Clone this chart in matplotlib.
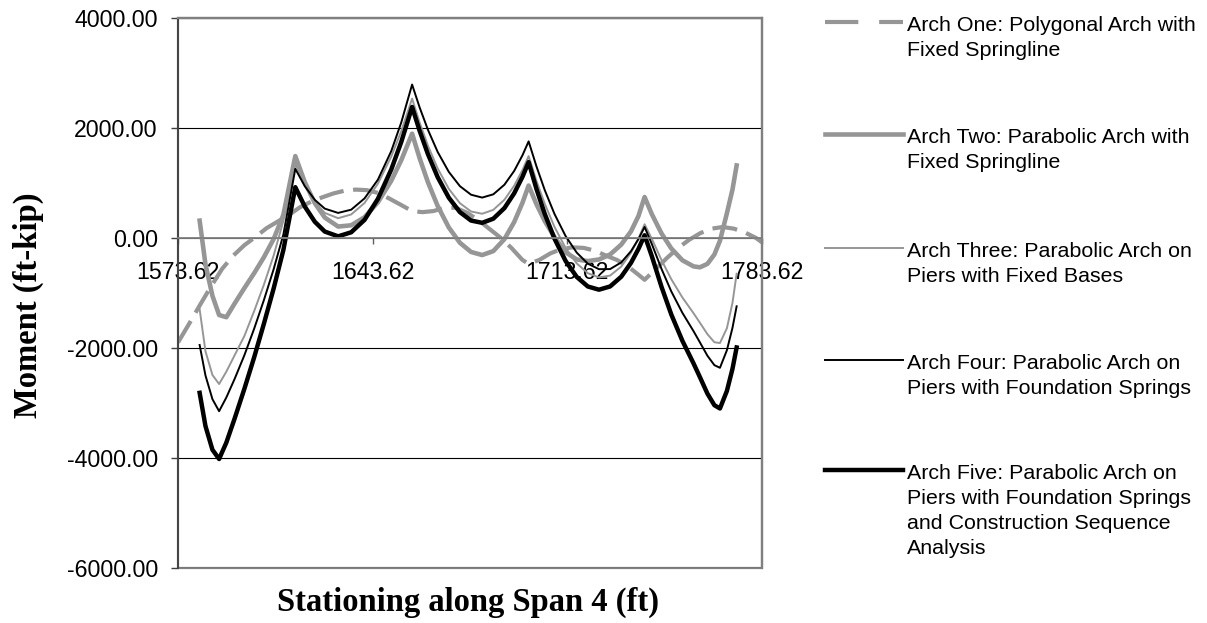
import matplotlib
matplotlib.use("Agg")
import matplotlib.pyplot as plt
from matplotlib.lines import Line2D

# ---- data (station in ft, moment in ft-kip) ----
# Arch one runs over the whole axis
station_one = [1573.62, 1577.5, 1581.5, 1585.5, 1589.5, 1593.5, 1597.5, 1601.5,
               1605.5, 1609.5, 1613.5, 1617.5, 1621.5, 1625.5, 1629.5, 1633.5,
               1637.5, 1641.5, 1645.5, 1649.5, 1653.5, 1657.8, 1661.5, 1665.5,
               1669.5, 1673.5, 1677.5, 1681.5, 1685.5, 1689.5, 1693.5, 1697.5,
               1699.7, 1703.5, 1707.5, 1711.5, 1715.5, 1719.5, 1723.5, 1727.5,
               1731.5, 1735.5, 1739.0, 1741.4, 1745.5, 1749.5, 1753.5, 1757.5,
               1761.5, 1765.5, 1769.5, 1773.5, 1777.5, 1781.5, 1783.62]
moment_one = [-1900, -1570, -1220, -880, -560, -320, -130, 20,
              180, 300, 420, 560, 660, 740, 810, 860,
              880, 870, 820, 720, 610, 490, 470, 490,
              550, 550, 460, 330, 170, 10, -180, -400,
              -470, -400, -280, -200, -170, -180, -230, -320,
              -400, -520, -660, -760, -560, -360, -180, -30,
              90, 170, 200, 170, 100, 0, -80]

# parabolic arches, springline to springline
station_parab = [1581.4, 1583.5, 1586.0, 1588.4, 1591.0, 1594.0, 1597.5, 1601.0, 1604.5, 1608.0, 1611.5,
                 1615.8,
                 1619.2, 1622.8, 1626.4, 1631.2, 1635.9, 1640.7, 1645.5, 1650.3, 1653.9,
                 1657.8,
                 1660.5, 1663.5, 1667.0, 1671.0, 1675.0, 1679.0, 1683.0, 1687.0, 1691.0, 1694.5, 1697.5,
                 1699.7,
                 1702.5, 1705.5, 1709.0, 1713.0, 1717.0, 1721.0, 1725.0, 1729.0, 1733.0, 1736.5, 1739.2,
                 1741.4,
                 1744.0, 1747.5, 1751.0, 1755.0, 1759.0, 1761.3, 1764.0, 1766.5, 1768.5, 1771.0, 1773.0, 1774.5]

moment_two = [316, -480, -1050, -1400, -1440, -1190, -910, -640, -350, -20, 420,
              1489,
              1017, 635, 372, 208, 231, 378, 648, 1040, 1414,
              1897,
              1452, 1013, 581, 191, -87, -254, -310, -238, -20, 289, 642,
              954,
              616, 308, 16, -260, -390, -420, -390, -300, -120, 120, 400,
              745,
              434, 82, -190, -405, -516, -533, -470, -300, -50, 450, 880, 1319]

moment_three = [-1295, -2060, -2490, -2655, -2430, -2130, -1780, -1330, -850, -320, 310,
                1350,
                962, 655, 456, 360, 428, 637, 988, 1480, 1942,
                2535,
                2100, 1678, 1264, 894, 633, 482, 441, 512, 696, 950, 1237,
                1489,
                1042, 621, 202, -181, -462, -640, -717, -683, -520, -269, -7,
                250,
                -14, -402, -749, -1082, -1367, -1541, -1749, -1895, -1910, -1640, -1180, -650]

moment_four = [-1945, -2500, -2930, -3149, -2900, -2560, -2130, -1650, -1130, -570, 60,
               1258,
               943, 694, 534, 456, 515, 720, 1060, 1580, 2100,
               2790,
               2375, 1967, 1564, 1202, 942, 787, 735, 794, 969, 1219, 1505,
               1757,
               1305, 871, 437, 35, -266, -467, -567, -565, -444, -240, -19,
               200,
               -109, -564, -971, -1361, -1694, -1898, -2141, -2312, -2360, -2040, -1635, -1242]

moment_five = [-2815, -3420, -3850, -4018, -3720, -3280, -2740, -2170, -1560, -920, -220,
               924,
               573, 296, 117, 30, 104, 330, 711, 1245, 1746,
               2383,
               1950, 1524, 1106, 733, 470, 317, 276, 351, 544, 812, 1114,
               1380,
               895, 438, -12, -418, -708, -882, -940, -881, -704, -453, -198,
               50,
               -330, -890, -1390, -1870, -2280, -2530, -2830, -3040, -3100, -2780, -2380, -1990]

x_ticks = [1573.62, 1643.62, 1713.62, 1783.62]
y_ticks = [-6000, -4000, -2000, 0, 2000, 4000]

legend_labels = [
    ["Arch One: Polygonal Arch with", "Fixed Springline"],
    ["Arch Two: Parabolic Arch with", "Fixed Springline"],
    ["Arch Three: Parabolic Arch on", "Piers with Fixed Bases"],
    ["Arch Four: Parabolic Arch on", "Piers with Foundation Springs"],
    ["Arch Five: Parabolic Arch on", "Piers with Foundation Springs",
     "and Construction Sequence", "Analysis"],
]

GRAY = "#969696"
SANS = "Liberation Sans"
SERIF = "Liberation Serif"

W, H = 1207, 623
fig = plt.figure(figsize=(W / 100, H / 100), dpi=100)
ax = fig.add_axes([178 / W, 1 - 568 / H, 584 / W, 550 / H])

# frame first (moving a spine resets the ticks): x axis crosses at zero
ax.spines["bottom"].set_position(("data", 0))
ax.spines["bottom"].set_color("#808080")
ax.spines["bottom"].set_linewidth(1.3)
ax.spines["left"].set_color("#404040")
ax.spines["left"].set_linewidth(1.3)
for s in ("top", "right"):
    ax.spines[s].set_color("#808080")
    ax.spines[s].set_linewidth(1.6)
ax.patch.set_edgecolor("#808080")
ax.patch.set_linewidth(1.6)

series = [
    (station_one, moment_one, dict(color=GRAY, lw=3.0, dashes=(6, 2.3))),
    (station_parab, moment_two, dict(color=GRAY, lw=3.3)),
    (station_parab, moment_three, dict(color=GRAY, lw=1.4)),
    (station_parab, moment_four, dict(color="black", lw=1.4)),
    (station_parab, moment_five, dict(color="black", lw=3.2)),
]
for xs, ys, st in series:
    ax.plot(xs, ys, solid_joinstyle="round", dash_joinstyle="round", **st)

ax.set_xlim(1573.62, 1783.62)
ax.set_ylim(-6000, 4000)
ax.set_xticks(x_ticks)
ax.set_xticklabels(["%.2f" % v for v in x_ticks])
ax.set_yticks(y_ticks)
ax.set_yticklabels(["%.2f" % v for v in y_ticks])
for lbl in ax.get_xticklabels() + ax.get_yticklabels():
    lbl.set_fontfamily(SANS)
    lbl.set_fontsize(16.7)

ax.set_axisbelow(True)
ax.yaxis.grid(True, color="black", lw=0.8)

ax.tick_params(axis="x", direction="out", length=4.3, width=1, color="#606060", pad=12)
ax.tick_params(axis="y", direction="out", length=5, width=1, color="#404040", pad=9.5)

ax.set_xlabel("Stationing along Span 4 (ft)", fontfamily=SERIF, fontweight="bold", fontsize=23.5)
ax.xaxis.set_label_coords((468 - 178) / 584, -0.035)
ax.set_ylabel("Moment (ft-kip)", fontfamily=SERIF, fontweight="bold", fontsize=23.5)
ax.yaxis.set_label_coords((44 - 178) / 584, 0.478)

# legend drawn beside the plot, key aligned with first text line
key_y = [22, 134, 248, 360, 470]
for (xs, ys, st), lines, ky in zip(series, legend_labels, key_y):
    kst = dict(st)
    if "dashes" in kst:
        kst["dashes"] = (8, 5)
    fig.add_artist(Line2D([825 / W, 903 / W], [1 - ky / H, 1 - ky / H],
                          transform=fig.transFigure, **kst))
    for i, t in enumerate(lines):
        by = ky + 9 + 25 * i
        fig.text(907 / W, 1 - by / H, t, fontfamily=SANS, fontsize=15.4,
                 va="baseline", ha="left")

fig.savefig("out.png", dpi=100)
